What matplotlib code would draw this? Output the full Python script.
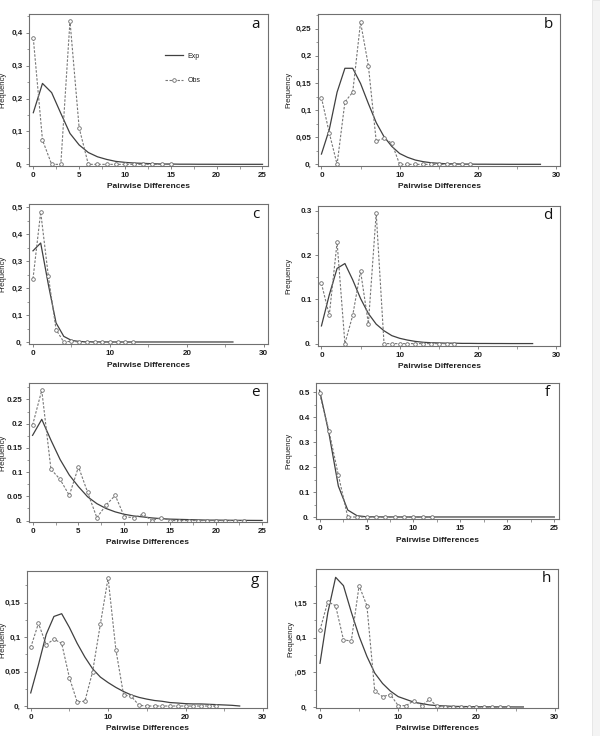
import numpy as np
import matplotlib
matplotlib.use("Agg")
import matplotlib.pyplot as plt
from matplotlib.ticker import FixedLocator, FixedFormatter, AutoMinorLocator
from matplotlib.transforms import ScaledTranslation
from matplotlib.patches import Rectangle

plt.rcParams['font.family'] = ['Liberation Sans', 'DejaVu Sans']

# ---------------- data ----------------
a_exp = [0.157, 0.246, 0.218, 0.155, 0.094, 0.059, 0.036, 0.023, 0.015, 0.009, 0.006, 0.004, 0.003,
         0.002, 0.001, 0.001, 0.0005, 0.0005, 0.0003, 0.0003, 0.0002, 0.0002, 0.0001, 0.0001, 0.0001, 0.0001]
a_obs = [0.383, 0.074, 0.0, 0.0, 0.436, 0.111, 0.0, 0.0, 0.0, 0.0, 0.0, 0.0, 0.0, 0.0, 0.0, 0.0]

b_exp = [0.019, 0.064, 0.133, 0.177, 0.177, 0.149, 0.112, 0.077, 0.051, 0.033, 0.020, 0.013, 0.008,
         0.005, 0.003, 0.002, 0.001, 0.001, 0.0005, 0.0005, 0.0003, 0.0003, 0.0002, 0.0002, 0.0001,
         0.0001, 0.0001, 0.0001, 0.0001]
b_obs = [0.123, 0.058, 0.0, 0.115, 0.133, 0.262, 0.182, 0.043, 0.048, 0.039, 0.0, 0.0, 0.0, 0.0,
         0.0, 0.0, 0.0, 0.0, 0.0, 0.0]

c_exp = [0.339, 0.368, 0.213, 0.071, 0.021, 0.006, 0.002, 0.001, 0.0005, 0.0003, 0.0002, 0.0001,
         0.0001, 0.0001, 0.0001, 0.0001, 0.0001, 0.0001, 0.0001, 0.0001, 0.0001, 0.0001, 0.0001, 0.0001,
         0.0001, 0.0001, 0.0001]
c_obs = [0.235, 0.483, 0.244, 0.046, 0.0, 0.003, 0.0, 0.0, 0.0, 0.0, 0.0, 0.0, 0.0, 0.0]

d_exp = [0.040, 0.110, 0.170, 0.181, 0.144, 0.102, 0.068, 0.044, 0.029, 0.018, 0.012, 0.008, 0.005,
         0.003, 0.002, 0.0015, 0.001, 0.001, 0.0005, 0.0005, 0.0003, 0.0003, 0.0002, 0.0002, 0.0001,
         0.0001, 0.0001, 0.0001]
d_obs = [0.136, 0.064, 0.229, 0.0, 0.064, 0.164, 0.045, 0.295, 0.0, 0.0, 0.0, 0.0, 0.0, 0.0, 0.0,
         0.0, 0.0, 0.0]

e_exp = [0.176, 0.209, 0.166, 0.126, 0.094, 0.070, 0.049, 0.035, 0.025, 0.018, 0.013, 0.0096, 0.0076,
         0.0055, 0.004, 0.003, 0.0025, 0.002, 0.0015, 0.001, 0.001, 0.0008, 0.0006, 0.0005, 0.0004, 0.0003]
e_obs = [0.197, 0.269, 0.106, 0.085, 0.052, 0.111, 0.058, 0.006, 0.032, 0.052, 0.008, 0.006, 0.013,
         0.0, 0.006, 0.0, 0.0, 0.0, 0.0, 0.0, 0.0, 0.0, 0.0, 0.0]

f_exp = [0.508, 0.335, 0.124, 0.028, 0.005, 0.001, 0.0005, 0.0003, 0.0002, 0.0001, 0.0001, 0.0001,
         0.0001, 0.0001, 0.0001, 0.0001, 0.0001, 0.0001, 0.0001, 0.0001, 0.0001, 0.0001, 0.0001, 0.0001,
         0.0001, 0.0001]
f_obs = [0.495, 0.345, 0.168, 0.0, 0.0, 0.0, 0.0, 0.0, 0.0, 0.0, 0.0, 0.0, 0.0]

g_exp = [0.019, 0.060, 0.104, 0.130, 0.134, 0.114, 0.091, 0.071, 0.054, 0.042, 0.034, 0.027, 0.021,
         0.016, 0.0125, 0.010, 0.008, 0.0068, 0.005, 0.0043, 0.0034, 0.003, 0.003, 0.0025, 0.002,
         0.0015, 0.001, 0.0]
g_obs = [0.085, 0.120, 0.089, 0.097, 0.091, 0.041, 0.006, 0.007, 0.050, 0.119, 0.186, 0.082, 0.016,
         0.014, 0.001, 0.0, 0.0, 0.0, 0.0, 0.0, 0.0, 0.0, 0.0, 0.0, 0.0]

h_exp = [0.063, 0.136, 0.187, 0.175, 0.137, 0.102, 0.073, 0.049, 0.034, 0.023, 0.015, 0.011, 0.007,
         0.005, 0.003, 0.002, 0.0015, 0.001, 0.0008, 0.0006, 0.0005, 0.0004, 0.0003, 0.0002, 0.0002,
         0.0001, 0.0001]
h_obs = [0.111, 0.152, 0.146, 0.097, 0.095, 0.175, 0.146, 0.023, 0.015, 0.018, 0.002, 0.002, 0.009,
         0.002, 0.011, 0.001, 0.0, 0.0, 0.0, 0.0, 0.0, 0.0, 0.0, 0.0, 0.0]

panel_letters = ["a", "b", "c", "d", "e", "f", "g", "h"]

xticks_25 = [0, 5, 10, 15, 20, 25]
xticks_30 = [0, 10, 20, 30]

a_yticks = [0, 0.1, 0.2, 0.3, 0.4]
a_ylabels = ["0,", "0,1", "0,2", "0,3", "0,4"]
b_yticks = [0, 0.05, 0.1, 0.15, 0.2, 0.25]
b_ylabels = ["0,", "0,05", "0,1", "0,15", "0,2", "0,25"]
c_yticks = [0, 0.1, 0.2, 0.3, 0.4, 0.5]
c_ylabels = ["0,", "0,1", "0,2", "0,3", "0,4", "0,5"]
d_yticks = [0, 0.1, 0.2, 0.3]
d_ylabels = ["0.", "0.1", "0.2", "0.3"]
e_yticks = [0, 0.05, 0.1, 0.15, 0.2, 0.25]
e_ylabels = ["0.", "0.05", "0.1", "0.15", "0.2", "0.25"]
f_yticks = [0, 0.1, 0.2, 0.3, 0.4, 0.5]
f_ylabels = ["0.", "0.1", "0.2", "0.3", "0.4", "0.5"]
g_yticks = [0, 0.05, 0.1, 0.15]
g_ylabels = ["0,", "0,05", "0,1", "0,15"]
h_yticks = [0, 0.05, 0.1, 0.15]
h_ylabels = ["0,", "0,05", "0,1", "0,15"]

W, H = 600, 736
fig = plt.figure(figsize=(W / 100, H / 100), dpi=100)

# layout: (left, right, top, bottom) in pixels, axis limits, y-label centre x (px)
panels = [
    dict(exp=a_exp, obs=a_obs, box=(29, 268, 14, 166), xlim=(-0.47, 25.6), ylim=(-0.005, 0.457),
         xt=xticks_25, yt=a_yticks, yl=a_ylabels, ylx=6.5, pad=2),
    dict(exp=b_exp, obs=b_obs, box=(318, 560, 14, 166), xlim=(-0.44, 30.5), ylim=(-0.003, 0.277),
         xt=xticks_30, yt=b_yticks, yl=b_ylabels, ylx=292, pad=2),
    dict(exp=c_exp, obs=c_obs, box=(29, 268, 204, 344), xlim=(-0.52, 30.56), ylim=(-0.0074, 0.513),
         xt=xticks_30, yt=c_yticks, yl=c_ylabels, ylx=6.5, pad=2),
    dict(exp=d_exp, obs=d_obs, box=(318, 560, 206, 346), xlim=(-0.44, 30.5), ylim=(-0.0054, 0.311),
         xt=xticks_30, yt=d_yticks, yl=d_ylabels, ylx=292, pad=2),
    dict(exp=e_exp, obs=e_obs, box=(29, 267, 383, 522), xlim=(-0.39, 25.53), ylim=(-0.0029, 0.284),
         xt=xticks_25, yt=e_yticks, yl=e_ylabels, ylx=6.5, pad=2),
    dict(exp=f_exp, obs=f_obs, box=(316, 559, 383, 519), xlim=(-0.38, 25.5), ylim=(-0.008, 0.537),
         xt=xticks_25, yt=f_yticks, yl=f_ylabels, ylx=292, pad=2),
    dict(exp=g_exp, obs=g_obs, box=(27, 267, 571, 708), xlim=(-0.48, 30.53), ylim=(-0.0029, 0.196),
         xt=xticks_30, yt=g_yticks, yl=g_ylabels, ylx=6.5, pad=2),
    dict(exp=h_exp, obs=h_obs, box=(316, 558, 569, 708), xlim=(-0.51, 30.43), ylim=(-0.0014, 0.199),
         xt=xticks_30, yt=h_yticks, yl=h_ylabels, ylx=291, pad=4),
]

spine_col = "#707070"
exp_col = "#404040"
obs_col = "#777777"
txt_col = "#1e1e1e"
narrow = ["Liberation Sans Narrow", "Liberation Sans", "DejaVu Sans"]

axes = []
for i, p in enumerate(panels):
    l, r, t, b = p["box"]
    ax = fig.add_axes([l / W, 1 - b / H, (r - l) / W, (b - t) / H])
    axes.append(ax)
    ex = np.arange(len(p["exp"]))
    ox = np.arange(len(p["obs"]))
    ax.plot(ex, p["exp"], color=exp_col, lw=0.9, label="Exp")
    ax.plot(ox, p["obs"], color=obs_col, lw=0.8, linestyle=(0, (2.2, 1.4)),
            marker="o", ms=2.6, mfc="white", mec="#6a6a6a", mew=0.6, label="Obs")
    ax.set_xlim(*p["xlim"])
    ax.set_ylim(*p["ylim"])
    ax.xaxis.set_major_locator(FixedLocator(p["xt"]))
    ax.xaxis.set_major_formatter(FixedFormatter([str(v) for v in p["xt"]]))
    ax.yaxis.set_major_locator(FixedLocator(p["yt"]))
    ax.yaxis.set_major_formatter(FixedFormatter(p["yl"]))
    ax.xaxis.set_minor_locator(AutoMinorLocator(2))
    ax.yaxis.set_minor_locator(AutoMinorLocator(2))
    ax.tick_params(which="major", direction="out", length=2.5, width=0.6, color=spine_col,
                   labelsize=5.8, labelcolor=txt_col, pad=2)
    ax.tick_params(axis="y", which="major", pad=p["pad"])
    ax.tick_params(which="minor", direction="out", length=1.8, width=0.5, color=spine_col)
    for lab in ax.get_xticklabels() + ax.get_yticklabels():
        lab.set_fontweight("bold")
    for s in ax.spines.values():
        s.set_color(spine_col)
        s.set_linewidth(0.8)
    wpx, hpx = r - l, b - t
    ax.set_xlabel("Pairwise Differences", fontsize=6, fontweight="bold", color=txt_col,
                  family=narrow)
    ax.xaxis.set_label_coords(0.5, -17.5 / hpx)
    if i < 7:
        ax.set_ylabel("Frequency", fontsize=5.5, color=txt_col, family=narrow)
        ax.yaxis.set_label_coords(-(l - p["ylx"]) / wpx, 0.5)
    else:
        fig.text(p["ylx"] / W, 1 - (t + b) / 2 / H, "Frequency", rotation=90, ha="center",
                 va="center", fontsize=5.5, color=txt_col, family=narrow, zorder=20)
    off = ScaledTranslation(-12 / 100, -10 / 100, fig.dpi_scale_trans)
    ax.text(1, 1, panel_letters[i], transform=ax.transAxes + off, ha="center", va="center",
            fontsize=11, color="#111111", family=["Open Sans", "DejaVu Sans"])

# legend in panel a
axes[0].legend(loc="upper left", bbox_to_anchor=(0.569, 0.745), frameon=False,
               prop=dict(family="Liberation Sans", size=5), labelspacing=2.5, handlelength=2.6,
               handletextpad=0.65, borderpad=0, borderaxespad=0, numpoints=1, labelcolor=txt_col)

# clipped left edge of the last panel's tick labels and right-hand grey strip
fig.patches.append(Rectangle((285 / W, 1 - 716 / H), 10.0 / W, 130 / H, transform=fig.transFigure,
                             facecolor="white", edgecolor="none", zorder=10))
fig.patches.append(Rectangle((592 / W, 0), 8 / W, 1, transform=fig.transFigure,
                             facecolor="#f4f4f4", edgecolor="#e4e4e4", lw=0.6, zorder=0))

fig.savefig("out.png", dpi=100, facecolor="white")
